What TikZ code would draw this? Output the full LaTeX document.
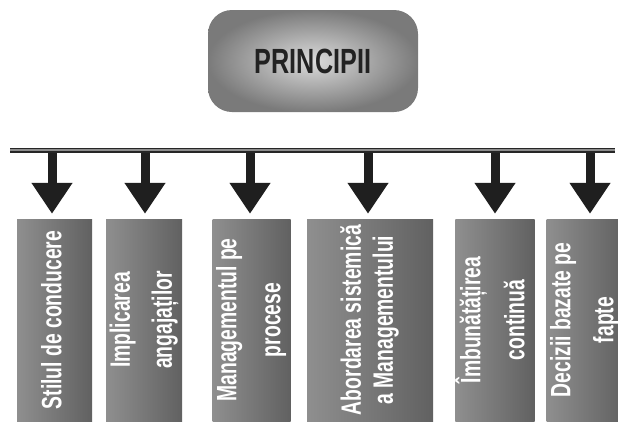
\documentclass[tikz,border=0pt]{standalone}
\usepackage{fontspec}
\setmainfont{Liberation Sans}
\newfontfamily\narrowfont{Liberation Sans}[FakeStretch=0.72]
\newfontfamily\colfont{Liberation Sans}[FakeStretch=0.69]
\usepackage{graphicx}
\usetikzlibrary{arrows.meta,shapes,calc}
\definecolor{ink}{HTML}{222222}
\newcommand{\vlabel}[2][10pt]{\rotatebox{90}{\begin{tabular}{@{}c@{}}#2\end{tabular}}}

\begin{document}
\begin{tikzpicture}[x=1pt, y=-1pt,
  princbox/.style={rounded corners=24pt, shading=radial, inner color=black!14, outer color=black!52,
    minimum width=210pt, minimum height=102pt, text=ink,
    font=\narrowfont\bfseries\fontsize{35}{40}\selectfont},
  colbox/.style={shading=axis, left color=black!44, right color=black!62, inner sep=0pt,
    minimum height=202pt, text=white,
    font=\colfont\bfseries\fontsize{28}{34}\selectfont},
  busline/.style={draw=black!85, line width=1.6pt, double=black!45, double distance=1.8pt},
  bigarrow/.style={draw=black!88, line width=9pt, -{Triangle[width=39pt,length=31pt]}}]
  \fill[white] (0,0) rectangle (618,421);
  \useasboundingbox (0,0) rectangle (618,421);

  \node[princbox] (principii) at (313,61) {\raisebox{-6pt}{PRINCIPII}};

  \coordinate (busL) at (10,150);
  \coordinate (busR) at (615,150);

  \foreach \i/\cx/\w/\ax/\txt in {
    1/54.5/75/52/{Stilul de conducere},
    2/144/76/145/{Implicarea\\[8pt]angajaților},
    3/251.5/77/250/{Managementul pe\\[10pt]procese},
    4/370/126/368/{Abordarea sistemică\\[-2pt]a Managementului},
    5/495/76/495/{Îmbunătățirea\\[10pt]continuă},
    6/585/64/590/{Decizii bazate pe\\[9pt]fapte}}
  {
    \node[colbox, minimum width=\w pt] (box\i) at (\cx,320) {\vlabel{\txt}};
    \coordinate (tap\i) at (\ax,150);
    \draw[bigarrow] (tap\i) -- ($(tap\i |- box\i.north)+(0,-5)$);
  }
  \draw[busline] (busL) -- (busR);
\end{tikzpicture}
\end{document}
